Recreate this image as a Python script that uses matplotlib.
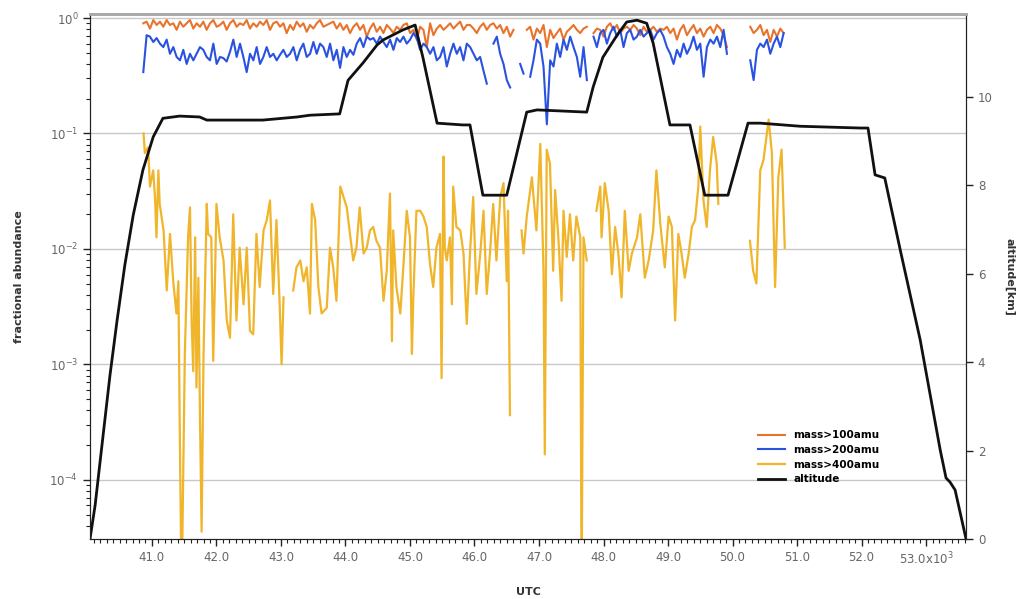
import numpy as np
import matplotlib.pyplot as plt
from matplotlib.ticker import LogLocator, MultipleLocator, NullFormatter

nan = np.nan

# altitude profile (UTC in 10^3 s, km)
t_alt = [40.04, 40.12, 40.19, 40.27, 40.35, 40.46, 40.58, 40.71, 40.86, 41.02,
         41.17, 41.43, 41.74, 41.85, 42.72, 43.25, 43.45, 43.91, 44.04, 44.27,
         44.49, 44.58, 44.89, 45.08, 45.20, 45.42, 45.82, 45.93, 46.13, 46.50,
         46.81, 46.97, 47.74, 47.84, 47.99, 48.21, 48.36, 48.52, 48.67, 48.77,
         49.03, 49.34, 49.57, 49.93, 50.24, 50.43, 51.05, 51.98, 52.10, 52.21,
         52.36, 52.60, 52.91, 53.22, 53.31, 53.37, 53.45, 53.62]
altitude = [0.0, 0.77, 1.67, 2.69, 3.71, 4.95, 6.20, 7.33, 8.35, 9.10,
            9.52, 9.57, 9.55, 9.48, 9.48, 9.55, 9.59, 9.62, 10.38, 10.77,
            11.18, 11.29, 11.52, 11.63, 10.90, 9.41, 9.37, 9.37, 7.78, 7.78,
            9.66, 9.71, 9.66, 10.23, 10.90, 11.40, 11.70, 11.74, 11.67, 11.22,
            9.37, 9.37, 7.78, 7.78, 9.41, 9.41, 9.34, 9.30, 9.30, 8.24,
            8.17, 6.54, 4.50, 2.01, 1.38, 1.29, 1.11, 0.0]

# mass>100 / mass>200 sampled on the aerosol instrument grid
t_start, t_step = 40.866, 0.0517
f100 = [0.90, 0.93, 0.81, 0.96, 0.87, 0.93, 0.84, 0.96, 0.87, 0.90,
        0.79, 0.93, 0.84, 0.90, 0.96, 0.81, 0.90, 0.84, 0.93, 0.79,
        0.90, 0.96, 0.84, 0.87, 0.93, 0.79, 0.90, 0.96, 0.84, 0.90,
        0.87, 0.96, 0.81, 0.90, 0.84, 0.93, 0.87, 0.96, 0.79, 0.90,
        0.93, 0.84, 0.90, 0.74, 0.87, 0.79, 0.93, 0.84, 0.90, 0.76,
        0.87, 0.81, 0.90, 0.96, 0.84, 0.87, 0.90, 0.93, 0.81, 0.90,
        0.79, 0.87, 0.74, 0.84, 0.90, 0.79, 0.87, 0.69, 0.81, 0.90,
        0.76, 0.84, 0.74, 0.87, 0.81, 0.74, 0.84, 0.79, 0.87, 0.90,
        0.74, 0.79, 0.65, 0.84, 0.79, 0.56, 0.90, 0.71, 0.81, 0.87,
        0.79, 0.84, 0.90, 0.81, 0.87, 0.93, 0.79, 0.87,
        0.87, 0.81, 0.74, 0.84, 0.90, 0.79, 0.87, 0.90, 0.81, 0.87,
        0.74, 0.84, 0.69, 0.79, nan, nan, nan, 0.79, 0.84, 0.65,
        0.81, 0.74, 0.87, 0.56, 0.79, 0.67, 0.74, 0.81, 0.65, 0.76,
        0.81, 0.87, 0.79, 0.74, 0.81, 0.84, nan, 0.74, 0.81, 0.79,
        0.69, 0.84, 0.90, 0.79, 0.87, 0.74, 0.81, 0.84, 0.79, 0.87,
        0.81, 0.71, 0.84, 0.76, 0.79, 0.84, 0.76, 0.81, 0.79, 0.84,
        0.74, 0.81, 0.65, 0.79, 0.87, 0.71, 0.79, 0.87, 0.74, 0.81,
        0.69, 0.79, 0.84, 0.74, 0.87, 0.81, 0.71, 0.56, nan, nan,
        nan, nan, nan, nan, 0.84, 0.74, 0.79, 0.87, 0.71, 0.79,
        0.62, 0.79, 0.69, 0.81, 0.74]
f200 = [0.34, 0.71, 0.69, 0.62, 0.67, 0.60, 0.56, 0.65, 0.49, 0.56,
        0.46, 0.43, 0.53, 0.40, 0.49, 0.43, 0.49, 0.56, 0.53, 0.46,
        0.43, 0.60, 0.40, 0.46, 0.45, 0.42, 0.51, 0.65, 0.46, 0.60,
        0.46, 0.34, 0.49, 0.43, 0.56, 0.40, 0.46, 0.56, 0.46, 0.49,
        0.43, 0.48, 0.53, 0.46, 0.49, 0.56, 0.43, 0.53, 0.60, 0.46,
        0.49, 0.62, 0.49, 0.60, 0.56, 0.46, 0.60, 0.43, 0.53, 0.37,
        0.56, 0.46, 0.53, 0.48, 0.60, 0.67, 0.56, 0.69, 0.65, 0.67,
        0.60, 0.69, 0.62, 0.56, 0.65, 0.53, 0.67, 0.62, 0.69, 0.60,
        0.65, 0.74, 0.67, 0.53, 0.60, 0.56, 0.49, 0.56, 0.43, 0.46,
        0.56, 0.38, 0.49, 0.60, 0.49, 0.56, 0.43, 0.60,
        0.56, 0.49, 0.43, 0.46, 0.35, 0.27, nan, 0.60, 0.69, 0.49,
        0.40, 0.29, 0.25, nan, nan, 0.40, 0.33, nan, 0.31, 0.43,
        0.65, 0.60, 0.38, 0.12, 0.43, 0.38, 0.60, 0.46, 0.65, 0.53,
        0.69, 0.56, 0.46, 0.31, 0.56, 0.29, nan, 0.69, 0.56, 0.74,
        0.79, 0.60, 0.74, 0.84, 0.69, 0.79, 0.56, 0.74, 0.79, 0.65,
        0.69, 0.79, 0.69, 0.74, 0.79, 0.65, 0.74, 0.79, 0.69, 0.56,
        0.49, 0.40, 0.53, 0.46, 0.60, 0.49, 0.56, 0.69, 0.53, 0.60,
        0.31, 0.56, 0.65, 0.60, 0.69, 0.56, 0.79, 0.49, nan, nan,
        nan, nan, nan, nan, 0.43, 0.29, 0.53, 0.60, 0.56, 0.65,
        0.49, 0.60, 0.69, 0.56, 0.74]

# mass>400 (log10 of fractional abundance)
t400 = [40.87, 40.89, 40.94, 40.97, 41.02, 41.05, 41.07, 41.10, 41.12, 41.18,
        41.23, 41.28, 41.33, 41.38, 41.41, 41.43, 41.46, 41.51, 41.56, 41.59,
        41.615, 41.64, 41.67, 41.69, 41.72, 41.744, 41.77, 41.80, 41.85, 41.87,
        41.92, 41.95, 41.98, 42.00, 42.05, 42.11, 42.16, 42.21, 42.26, 42.31,
        42.36, 42.42, 42.47, 42.52, 42.57, 42.62, 42.67, 42.73, 42.78, 42.83,
        42.88, 42.93, 42.98, 43.01, 43.04, 43.10, 43.19, 43.24, 43.30, 43.35,
        43.40, 43.45, 43.48, 43.53, 43.58, 43.63, 43.71, 43.76, 43.81, 43.86,
        43.92, 44.02, 44.12, 44.17, 44.22, 44.28, 44.33, 44.38, 44.43, 44.48,
        44.535, 44.59, 44.64, 44.69, 44.72, 44.74, 44.79, 44.85, 44.90, 44.95,
        45.00, 45.03, 45.05, 45.10, 45.16, 45.21, 45.26, 45.31, 45.36, 45.41,
        45.465, 45.49, 45.52, 45.54, 45.57, 45.62, 45.65, 45.67, 45.72, 45.78,
        45.83, 45.88, 45.93, 45.98, 46.03, 46.09, 46.14, 46.19, 46.24, 46.29,
        46.34, 46.40, 46.45, 46.50, 46.52, 46.55, 46.64, 46.73, 46.76, 46.81,
        46.89, 46.96, 47.02, 47.07, 47.09, 47.12, 47.17, 47.22, 47.25, 47.30,
        47.35, 47.38, 47.43, 47.48, 47.53, 47.58, 47.64, 47.66, 47.69, 47.74,
        47.81, 47.89, 47.95, 47.97, 48.02, 48.08, 48.13, 48.18, 48.23, 48.28,
        48.33, 48.39, 48.44, 48.52, 48.57, 48.64, 48.70, 48.77, 48.82, 48.88,
        48.95, 49.01, 49.06, 49.11, 49.16, 49.21, 49.26, 49.32, 49.37, 49.42,
        49.47, 49.50, 49.55, 49.60, 49.65, 49.70, 49.755, 49.78, 50.00, 50.27,
        50.32, 50.37, 50.43, 50.48, 50.56, 50.61, 50.66, 50.71, 50.76, 50.81]
log_f400 = [-1.00, -1.17, -1.12, -1.46, -1.32, -1.58, -1.90, -1.32, -1.61, -1.84,
            -2.36, -1.87, -2.28, -2.56, -2.28, -3.49, -5.00, -2.91, -1.90, -1.64,
            -2.62, -3.06, -1.90, -3.20, -2.25, -3.43, -4.45, -2.91, -1.61, -1.87,
            -1.90, -2.97, -2.19, -1.61, -1.90, -2.10, -2.62, -2.77, -1.70, -2.62,
            -1.99, -2.48, -1.99, -2.71, -2.74, -1.87, -2.33, -1.84, -1.75, -1.58,
            -2.39, -1.75, -2.48, -3.00, -2.42, nan, -2.36, -2.16, -2.10, -2.28,
            -2.16, -2.56, -1.61, -1.75, -2.33, -2.56, -2.51, -1.99, -2.16, -2.45,
            -1.46, -1.64, -2.10, -1.99, -1.64, -2.04, -1.99, -1.84, -1.81, -1.93,
            -1.99, -2.45, -2.19, -1.52, -2.80, -1.84, -2.33, -2.56, -2.13, -1.67,
            -1.90, -2.91, -2.45, -1.67, -1.67, -1.72, -1.81, -2.13, -2.33, -1.99,
            -1.87, -3.12, -1.20, -1.99, -2.10, -1.90, -2.48, -1.46, -1.81, -1.84,
            -2.04, -2.65, -2.04, -1.55, -2.39, -2.04, -1.67, -2.39, -2.04, -1.61,
            -2.10, -1.55, -1.43, -2.28, -1.67, -3.44, nan, -1.84, -2.04, -1.72,
            -1.38, -1.84, -1.09, -2.19, -3.78, -1.14, -1.26, -2.19, -1.49, -1.90,
            -2.45, -1.67, -2.07, -1.70, -2.10, -1.72, -1.90, -5.00, -1.90, -2.10,
            nan, -1.67, -1.46, -1.90, -1.43, -1.67, -2.22, -1.81, -2.04, -2.42,
            -1.67, -2.19, -2.04, -1.90, -1.70, -2.25, -2.10, -1.84, -1.32, -1.78,
            -2.16, -1.72, -1.81, -2.62, -1.87, -2.04, -2.25, -2.04, -1.81, -1.75,
            -1.46, -0.94, -1.58, -1.81, -1.32, -1.03, -1.26, -1.61, nan, -1.93,
            -2.19, -2.30, -1.32, -1.23, -0.88, -1.17, -2.33, -1.38, -1.14, -1.99]

labels = ['mass>100amu', 'mass>200amu', 'mass>400amu', 'altitude']
colors = ['#E8742C', '#2A52E0', '#F0B52A', '#111111']

t_ams = t_start + t_step * np.arange(len(f100))
f400 = 10 ** np.array(log_f400)

fig = plt.figure(figsize=(10.31, 5.99), dpi=100)
ax = fig.add_axes([0.0873, 0.1002, 0.8497, 0.8764])
ax2 = ax.twinx()

h1, = ax.plot(t_ams, f100, color=colors[0], lw=1.5)
h2, = ax.plot(t_ams, f200, color=colors[1], lw=1.5)
h3, = ax.plot(t400, f400, color=colors[2], lw=1.6)
h4, = ax2.plot(t_alt, altitude, color=colors[3], lw=2.0)

ax.set_yscale('log')
ax.set_ylim(3.07e-5, 1.083)
ax.set_xlim(40.04, 53.62)
ax2.set_ylim(0, 11.88)

ax.yaxis.set_major_locator(LogLocator(base=10, numticks=10))
ax.yaxis.set_minor_locator(LogLocator(base=10, subs=np.arange(2, 10), numticks=20))
ax.yaxis.set_minor_formatter(NullFormatter())
ax.grid(axis='y', which='major', color='#c8c8c8', lw=1.0)

xt = np.arange(41, 54)
ax.set_xticks(xt)
ax.set_xticklabels([f'{v:.1f}' for v in xt[:-1]] + ['53.0x10$^3$'])
ax.xaxis.set_minor_locator(MultipleLocator(0.1))
ax2.set_yticks(range(0, 11, 2))

tick_col = '#666666'
for a in (ax, ax2):
    a.tick_params(which='major', length=5, width=1, colors='#222222', labelcolor=tick_col, labelsize=8.5)
    a.tick_params(which='minor', length=3, width=0.8, colors='#222222')
    for s in a.spines.values():
        s.set_color('#222222')
    a.spines['top'].set_color('#aaaaaa')
    a.spines['top'].set_linewidth(2)

ax.set_xlabel('UTC', fontsize=8, fontweight='bold', color='#333333', labelpad=14)
ax.set_ylabel('fractional abundance', fontsize=8, fontweight='bold', color='#333333', labelpad=18)
ax2.set_ylabel('altitude[km]', fontsize=8, fontweight='bold', color='#333333', rotation=270, labelpad=16)

ax2.legend([h1, h2, h3, h4], labels, loc='upper left', bbox_to_anchor=(0.752, 0.225),
           frameon=False, prop={'weight': 'bold', 'size': 7.5},
           handlelength=2.6, labelspacing=0.45)

fig.savefig('out.png', dpi=100, facecolor='white')
